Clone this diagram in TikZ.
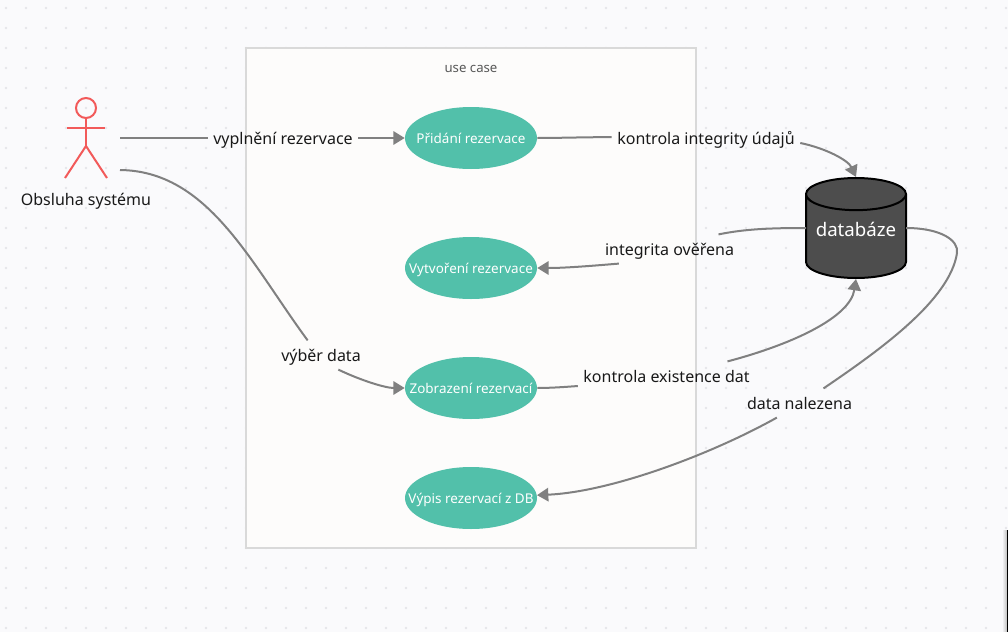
\documentclass[tikz,border=0pt]{standalone}
\usepackage{fontspec}
\setmainfont{Noto Sans}
\usetikzlibrary{arrows.meta,shapes.geometric}
\definecolor{pagebg}{HTML}{FAFAFC}
\definecolor{griddot}{HTML}{E6E6EA}
\definecolor{framebg}{HTML}{FDFCFB}
\definecolor{frameline}{HTML}{D9D9D9}
\definecolor{caseteal}{HTML}{52C0AA}
\definecolor{actorred}{HTML}{F25A5A}
\definecolor{linkgray}{HTML}{808080}
\definecolor{dbgray}{HTML}{4D4D4D}
\newcommand{\casename}[1]{\makebox[0pt]{#1}}
\tikzset{
  usecase/.style={ellipse, fill=caseteal, text=white, font=\fontsize{10.1}{12}\selectfont,
    minimum width=99pt, minimum height=46.5pt, inner sep=0pt, text height=7.5pt, text depth=0pt},
  linklabel/.style={font=\fontsize{12}{14}\selectfont, text=black!90, inner xsep=4pt,
    minimum height=21.5pt, inner ysep=0pt, text height=11pt, text depth=1pt},
  link/.style={draw=linkgray, line width=1.5pt},
  linkarrow/.style={link, -{Triangle[length=8.5pt,width=10pt]}},
  actorline/.style={draw=actorred, line width=1.5pt}
}
\begin{document}
\begin{tikzpicture}[x=0.75pt,y=-0.75pt]
  \useasboundingbox (0,0) rectangle (1008,632);

  % Page background and its dots
  \fill[pagebg] (0,0) rectangle (1008,632);
  \foreach \i in {0,...,50}
    \foreach \j in {0,...,31}
      \fill[griddot] (6+20*\i,8+20*\j) circle (1.1pt);

  % Sliver at the right edge
  \shade[left color=pagebg, right color=black!25] (1002,530) rectangle (1007,632);
  \fill[black] (1007,530) rectangle (1008,632);

  % Use case frame
  \node[draw=frameline, fill=framebg, line width=1.5pt, minimum width=337.5pt, minimum height=375pt,
    inner sep=0pt] (frame) at (471,298) {};
  \node[font=\fontsize{9.9}{12}\selectfont, text=black!65, text height=8pt, text depth=0pt,
    inner sep=0pt] (frametitle) at (471,67.5) {use case};

  % Actor
  \coordinate (head) at (86,108);
  \coordinate (hip) at (86,146);
  \draw[actorline] (head) circle (10);
  \draw[actorline] (86,118) -- (hip);
  \draw[actorline] (67,128) -- (105,128);
  \draw[actorline] (65,178) -- (hip) -- (107,178);
  \node[linklabel] (actorname) at (86,199) {Obsluha systému};

  % Free ends of the links at the actor
  \coordinate (actorA) at (120,138);
  \coordinate (actorB) at (120,170);

  % Use cases
  \node[usecase] (pridani) at (471,138) {\casename{Přidání rezervace}};
  \node[usecase] (vytvoreni) at (471,268) {\casename{Vytvoření rezervace}};
  \node[usecase] (zobrazeni) at (471,388) {\casename{Zobrazení rezervací}};
  \node[usecase] (vypis) at (471,498) {\casename{Výpis rezervací z DB}};

  % Database
  \node[cylinder, shape border rotate=90, aspect=0.4, draw=black, line width=1.5pt, fill=dbgray,
    font=\fontsize{14}{16}\selectfont, minimum width=75pt, minimum height=75pt, inner sep=0pt,
    anchor=shape center] (db) at (856,228) {\phantom{databáze}};
  \node[text=white, font=\fontsize{14}{16}\selectfont, text height=11.5pt, text depth=1pt,
    inner sep=0pt] (dbname) at (856,229) {databáze};

  % Link labels
  \node[linklabel] (vyplneni) at (283,138) {vyplnění rezervace};
  \node[linklabel] (vyber) at (321,355) {výběr data};
  \node[linklabel] (integrita) at (706,138) {kontrola integrity údajů};
  \node[linklabel] (overena) at (669.5,249) {integrita ověřena};
  \node[linklabel] (existence) at (666.5,376) {kontrola existence dat};
  \node[linklabel] (nalezena) at (799.5,403) {data nalezena};

  % Links
  \draw[link] (actorA) -- (vyplneni);
  \draw[linkarrow] (vyplneni) -- (pridani);
  \draw[link] (actorB) .. controls (208,171) and (250,262) .. ([xshift=-10pt]vyber.north);
  \draw[linkarrow] ([xshift=13pt]vyber.south) .. controls (360,380) and (385,388) .. (zobrazeni);
  \draw[link] (pridani) .. controls (560,138) and (590,137) .. (integrita);
  \draw[linkarrow] ([yshift=-3.75pt]integrita.east) .. controls (825,148) and (848,160) .. (db.top);
  \draw[link] (806,228) .. controls (770,228) and (745,229) .. ([xshift=36.75pt]overena.north);
  \draw[linkarrow] ([xshift=-38pt]overena.south) .. controls (590,266) and (565,268) .. (vytvoreni);
  \draw[link] (zobrazeni) .. controls (550,388) and (565,387) .. ([yshift=-7.5pt]existence.west);
  \draw[linkarrow] ([xshift=45.75pt]existence.north) .. controls (790,345) and (850,318) .. (db.bottom);
  \draw[link] (906,228) .. controls (940,228) and (959,240) .. (957,253)
    .. controls (950,300) and (880,350) .. ([xshift=18pt]nalezena.north);
  \draw[linkarrow] ([xshift=-17pt]nalezena.south) .. controls (710,455) and (610,492) .. (vypis);
\end{tikzpicture}
\end{document}
